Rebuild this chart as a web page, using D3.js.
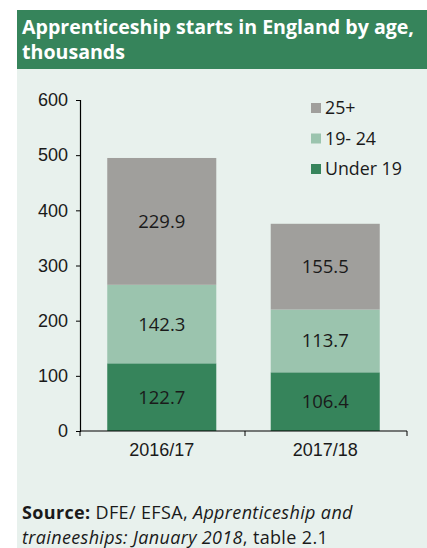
<!DOCTYPE html>
<html>
<head>
<meta charset="utf-8">
<script src="https://cdn.jsdelivr.net/npm/d3@7"></script>
<style>
  html, body { margin: 0; padding: 0; background: #fff; }
  svg { display: block; font-family: "Open Sans", "Noto Sans", sans-serif; }
</style>
</head>
<body>
<svg id="chart" width="427" height="548"></svg>
<script>
// data
var years = ['2016/17', '2017/18'];
var under19 = [122.7, 106.4];
var age19to24 = [142.3, 113.7];
var age25plus = [229.9, 155.5];
var seriesNames = ['Under 19', '19- 24', '25+'];
var seriesColors = ['#36845b', '#9bc4ae', '#a09f9c'];
var yTicks = [0, 100, 200, 300, 400, 500, 600];

var svg = d3.select('#chart');

// panel background + title band
svg.append('rect').attr('x', 17).attr('y', 10).attr('width', 410).attr('height', 538).attr('fill', '#e8f1ed');
svg.append('rect').attr('x', 17).attr('y', 10).attr('width', 410).attr('height', 59).attr('fill', '#36845b');
var title = svg.append('text').attr('fill', '#fff').attr('font-weight', 'bold').attr('font-size', 19.6);
title.append('tspan').attr('x', 22).attr('y', 34).text('Apprenticeship starts in England by age,');
title.append('tspan').attr('x', 22).attr('y', 59).text('thousands');

var rows = years.map(function(y, i) {
    return {year: y, 'Under 19': under19[i], '19- 24': age19to24[i], '25+': age25plus[i]};
});
var stacked = d3.stack().keys(seriesNames)(rows);

var x = d3.scaleBand().domain(years).range([80, 407]).paddingInner(0.333).paddingOuter(0.1667);
var y = d3.scaleLinear().domain([0, 600]).range([431, 100]);
var color = d3.scaleOrdinal().domain(seriesNames).range(seriesColors);

var layers = svg.append('g').selectAll('g').data(stacked).enter().append('g')
    .attr('fill', function(d) { return color(d.key); });
layers.selectAll('rect').data(function(d) { return d; }).enter().append('rect')
    .attr('x', function(d) { return x(d.data.year); })
    .attr('y', function(d) { return y(d[1]); })
    .attr('width', x.bandwidth())
    .attr('height', function(d) { return y(d[0]) - y(d[1]); });
layers.selectAll('text').data(function(d) { return d.map(function(p) { p.key = d.key; return p; }); }).enter().append('text')
    .attr('x', function(d) { return x(d.data.year) + x.bandwidth() / 2; })
    .attr('y', function(d) { return (y(d[0]) + y(d[1])) / 2; })
    .attr('dy', '0.35em')
    .attr('text-anchor', 'middle')
    .attr('fill', '#1a1a1a')
    .attr('font-size', 18.5)
    .text(function(d) { return d.data[d.key].toFixed(1); });

// axes
var yAxis = svg.append('g').attr('transform', 'translate(80,0)')
    .call(d3.axisLeft(y).tickValues(yTicks).tickSize(4).tickPadding(8));
var xAxis = svg.append('g').attr('transform', 'translate(0,431)')
    .call(d3.axisBottom(x).tickSize(0).tickPadding(12));
xAxis.append('g').selectAll('line').data([80, 245, 407]).enter().append('line')
    .attr('x1', function(d) { return d; }).attr('x2', function(d) { return d; })
    .attr('y1', 0).attr('y2', 5).attr('stroke', '#000');
[yAxis, xAxis].forEach(function(a) {
    a.select('.domain').attr('stroke', '#000').attr('stroke-width', 1.2);
    a.selectAll('.tick line').attr('stroke', '#000');
    a.selectAll('text').attr('font-size', 18).attr('fill', '#1a1a1a').attr('font-family', null);
});
xAxis.select('.domain').attr('d', 'M80,0H407');

// legend
var legend = svg.append('g').selectAll('g').data(seriesNames.slice().reverse()).enter().append('g')
    .attr('transform', function(d, i) { return 'translate(311,' + (108 + i * 30.5) + ')'; });
legend.append('rect').attr('x', 0).attr('y', -5).attr('width', 10).attr('height', 10)
    .attr('fill', function(d) { return color(d); });
legend.append('text').attr('x', 14).attr('dy', '0.35em').attr('font-size', 17.8).attr('fill', '#1a1a1a')
    .text(function(d) { return d; });

// source note, two separate lines
var s1 = svg.append('text').attr('x', 22).attr('y', 519).attr('font-size', 18).attr('letter-spacing', 0.35).attr('fill', '#1a1a1a');
s1.append('tspan').attr('font-weight', 'bold').text('Source:');
s1.append('tspan').text(' DFE/ EFSA, ');
s1.append('tspan').attr('font-style', 'italic').text('Apprenticeship and');
var s2 = svg.append('text').attr('x', 22).attr('y', 544).attr('font-size', 18).attr('letter-spacing', 0.35).attr('fill', '#1a1a1a');
s2.append('tspan').attr('font-style', 'italic').text('traineeships: January 2018');
s2.append('tspan').text(', table 2.1');
</script>
</body>
</html>
